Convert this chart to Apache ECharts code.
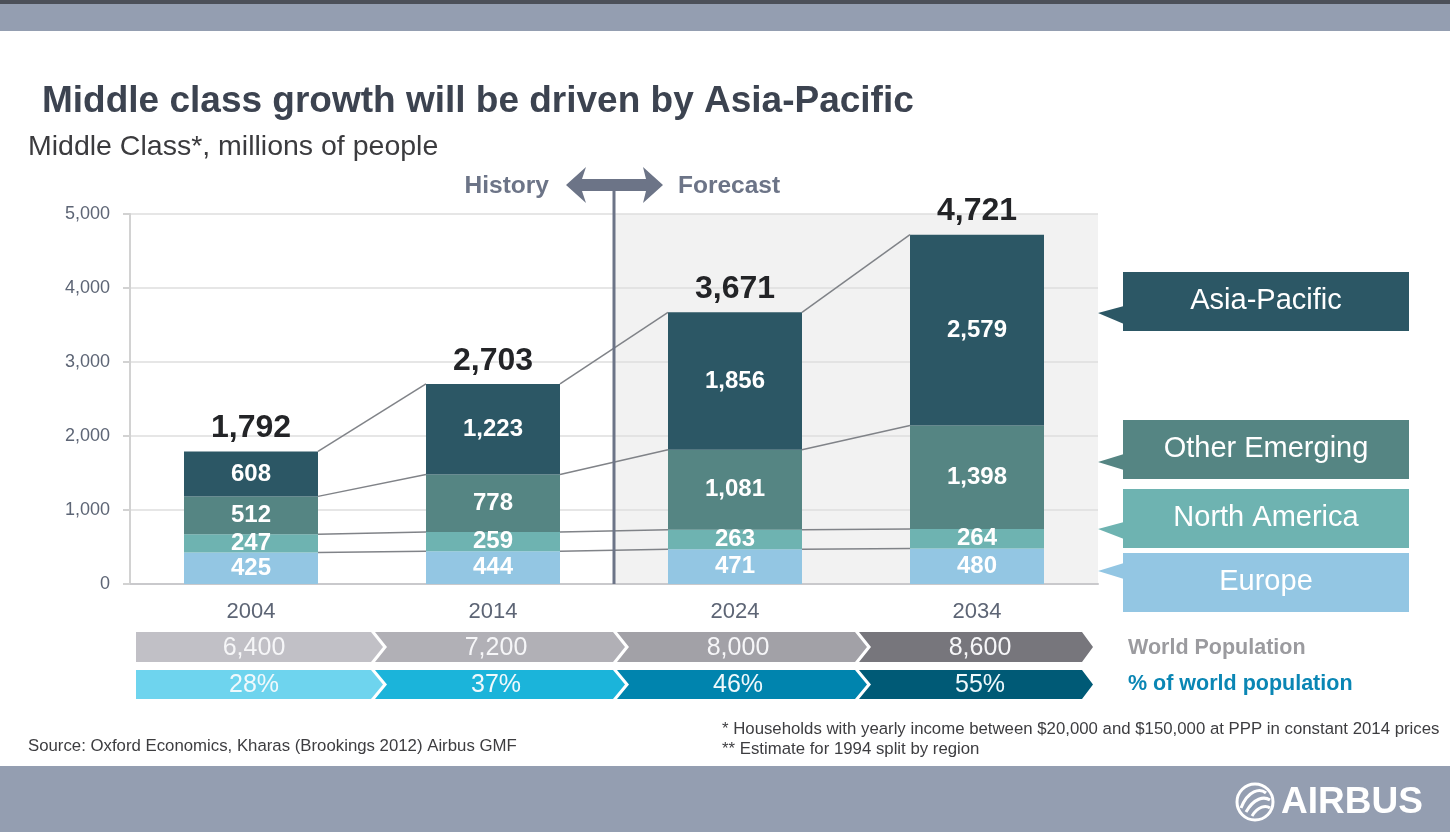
<!DOCTYPE html>
<html><head><meta charset="utf-8">
<script src="https://cdn.jsdelivr.net/npm/echarts@6/dist/echarts.min.js"></script>
<style>html,body{margin:0;padding:0;background:#fff}#c{width:1450px;height:832px}</style>
</head><body><div id="c"></div>
<script>
// ---- data ----
const years = ['2004', '2014', '2024', '2034'];
const europe = [425, 444, 471, 480];
const northAmerica = [247, 259, 263, 264];
const otherEmerging = [512, 778, 1081, 1398];
const asiaPacific = [608, 1223, 1856, 2579];
const totals = [1792, 2703, 3671, 4721];
const worldPopulation = [6400, 7200, 8000, 8600];
const shareOfWorld = [28, 37, 46, 55];
const yTicks = [0, 1000, 2000, 3000, 4000, 5000];
const seriesNames = ['Europe', 'North America', 'Other Emerging', 'Asia-Pacific'];
const firstForecast = '2024';

// ---- styles ----
const FONT = 'Liberation Sans, Arial, Helvetica, sans-serif';
const C_AP = '#2c5765', C_OE = '#558583', C_NA = '#6eb3b1', C_EU = '#93c6e3';
const seriesColors = [C_EU, C_NA, C_OE, C_AP];
const popColors = ['#c1c0c6', '#b1b0b6', '#a2a1a7', '#77767c'];
const shareColors = ['#6ed4ee', '#1bb4da', '#0084ae', '#005a76'];
const BAR_W = 134;
const fmt = v => Number(v).toLocaleString('en-US');

const seriesValues = [europe, northAmerica, otherEmerging, asiaPacific];
const levels = [];
let acc = years.map(() => 0);
seriesValues.forEach(arr => { acc = acc.map((a, i) => a + arr[i]); levels.push(acc.slice()); });
const fIdx = years.indexOf(firstForecast);
const yMax = yTicks[yTicks.length - 1];

const chart = echarts.init(document.getElementById('c'), null, { renderer: 'canvas' });

const barSeries = seriesNames.map((name, k) => ({
  name, type: 'bar', stack: 'mc', xAxisIndex: 0, yAxisIndex: 0,
  barWidth: BAR_W, data: seriesValues[k], z: 3,
  itemStyle: { color: seriesColors[k] },
  label: { show: true, position: 'inside', color: '#ffffff', fontFamily: FONT, fontWeight: 'bold', fontSize: 24, formatter: p => fmt(p.value) }
}));

function chevron(colorsArr, row) {
  return function (params, api) {
    const i = api.value(0);
    const n = years.length;
    const band = api.size([1, 0])[0];
    const cx = api.coord([i, 0])[0];
    const top = api.coord([i, 1])[1];
    const bot = api.coord([i, 0])[1];
    const mid = (top + bot) / 2;
    const L = cx - band / 2, R = cx + band / 2;
    const last = i === n - 1;
    const rT = last ? R - 16 : R - 1, rTip = last ? R - 5 : R + 11;
    const pts = [];
    if (i === 0) { pts.push([L + 6, top]); } else { pts.push([L + 3, top]); }
    pts.push([rT, top], [rTip, mid], [rT, bot]);
    if (i === 0) { pts.push([L + 6, bot]); } else { pts.push([L + 3, bot], [L + 15, mid]); }
    const v = api.value(1);
    const txt = row === 0 ? fmt(v) : v + '%';
    return {
      type: 'group', children: [
        { type: 'polygon', shape: { points: pts }, style: { fill: colorsArr[i] } },
        { type: 'text', style: { text: txt, x: cx + 3, y: mid + 1, align: 'center', verticalAlign: 'middle', textAlign: 'center', textVerticalAlign: 'middle', fill: row === 0 ? '#f6f6f8' : '#f0f9fc', fontSize: 25, fontFamily: FONT } }
      ]
    };
  };
}

const option = {
  animation: false,
  backgroundColor: '#ffffff',
  grid: [
    { left: 130, right: 352, top: 214, bottom: 248 },
    { left: 130, right: 352, top: 632, height: 30 },
    { left: 130, right: 352, top: 670, height: 29 }
  ],
  xAxis: [
    { type: 'category', data: years, gridIndex: 0,
      axisLine: { lineStyle: { color: '#c9c9cc', width: 2 } }, axisTick: { show: false },
      axisLabel: { color: '#5d6575', fontSize: 22, fontFamily: FONT, margin: 17 } },
    { type: 'category', data: years, gridIndex: 1, show: false },
    { type: 'category', data: years, gridIndex: 2, show: false }
  ],
  yAxis: [
    { type: 'value', gridIndex: 0, min: 0, max: yMax, interval: 1000,
      axisLine: { show: true, lineStyle: { color: '#d2d2d2', width: 2 } },
      axisTick: { show: true, length: 7, lineStyle: { color: '#d2d2d2', width: 2 } },
      splitLine: { lineStyle: { color: '#dedede', width: 1.5 } },
      axisLabel: { color: '#5d6575', fontSize: 18, fontFamily: FONT, margin: 20, formatter: v => fmt(v) } },
    { type: 'value', gridIndex: 1, min: 0, max: 1, show: false },
    { type: 'value', gridIndex: 2, min: 0, max: 1, show: false }
  ],
  series: [
    { name: 'forecastBg', type: 'custom', xAxisIndex: 0, yAxisIndex: 0, z: -1, silent: true,
      data: years.map((y, i) => [i, 0]).filter(d => d[0] >= fIdx),
      renderItem: (params, api) => {
        const i = api.value(0);
        const band = api.size([1, 0])[0];
        const c = api.coord([i, 0]);
        const top = api.coord([i, yMax])[1];
        return { type: 'rect', shape: { x: c[0] - band / 2, y: top, width: band, height: c[1] - top }, style: { fill: '#f2f2f2' } };
      } },
    ...barSeries,
    { name: 'connectors', type: 'custom', xAxisIndex: 0, yAxisIndex: 0, z: 4, silent: true,
      data: years.slice(0, -1).map((y, i) => [i, totals[i]]),
      renderItem: (params, api) => {
        const i = api.value(0);
        return { type: 'group', children: levels.map(lv => {
          const a = api.coord([i, lv[i]]), b = api.coord([i + 1, lv[i + 1]]);
          return { type: 'line', shape: { x1: a[0] + BAR_W / 2, y1: a[1], x2: b[0] - BAR_W / 2, y2: b[1] }, style: { stroke: '#808388', lineWidth: 1.5 } };
        }) };
      } },
    { name: 'divider', type: 'custom', xAxisIndex: 0, yAxisIndex: 0, z: 5, silent: true,
      data: [[fIdx, yMax]],
      renderItem: (params, api) => {
        const i = api.value(0);
        const band = api.size([1, 0])[0];
        const x = api.coord([i, 0])[0] - band / 2;
        const bot = api.coord([i, 0])[1];
        const top = api.coord([i, yMax])[1];
        const cy = top - 29;
        const col = '#6c7487';
        const pts = [[x - 48, cy], [x - 28, cy - 18], [x - 32, cy - 6], [x + 32, cy - 6], [x + 29, cy - 18], [x + 49, cy],
          [x + 29, cy + 18], [x + 32, cy + 6], [x - 32, cy + 6], [x - 28, cy + 18]];
        return { type: 'group', children: [
          { type: 'line', shape: { x1: x, y1: cy + 5, x2: x, y2: bot }, style: { stroke: col, lineWidth: 3 } },
          { type: 'polygon', shape: { points: pts }, style: { fill: col } },
          { type: 'text', style: { text: 'History', x: x - 65, y: cy + 1, align: 'right', verticalAlign: 'middle', textAlign: 'right', textVerticalAlign: 'middle', fill: col, fontSize: 24.5, fontWeight: 'bold', fontFamily: FONT } },
          { type: 'text', style: { text: 'Forecast', x: x + 64, y: cy + 1, align: 'left', verticalAlign: 'middle', textAlign: 'left', textVerticalAlign: 'middle', fill: col, fontSize: 24.5, fontWeight: 'bold', fontFamily: FONT } }
        ] };
      } },
    { name: 'totals', type: 'custom', xAxisIndex: 0, yAxisIndex: 0, z: 6, silent: true,
      data: totals.map((v, i) => [i, v]),
      renderItem: (params, api) => {
        const p = api.coord([api.value(0), api.value(1)]);
        return { type: 'text', style: { text: fmt(api.value(1)), x: p[0], y: p[1] - 23, align: 'center', verticalAlign: 'middle', textAlign: 'center', textVerticalAlign: 'middle', fill: '#232427', fontSize: 32, fontWeight: 'bold', fontFamily: FONT } };
      } },
    { name: 'World Population', type: 'custom', xAxisIndex: 1, yAxisIndex: 1, silent: true,
      data: worldPopulation.map((v, i) => [i, v]), renderItem: chevron(popColors, 0) },
    { name: '% of world population', type: 'custom', xAxisIndex: 2, yAxisIndex: 2, silent: true,
      data: shareOfWorld.map((v, i) => [i, v]), renderItem: chevron(shareColors, 1) }
  ],
  graphic: []
};

function txt(text, x, y, size, color, weight, align) {
  return { type: 'text', silent: true, style: { text, x, y, fill: color, fontSize: size, fontWeight: weight || 'normal', fontFamily: FONT,
    align: align || 'left', textAlign: align || 'left', verticalAlign: 'middle', textVerticalAlign: 'middle' } };
}

const legendBoxes = [
  { name: 'Asia-Pacific', color: C_AP, top: 272, tip: 313, b1: 306, b2: 324 },
  { name: 'Other Emerging', color: C_OE, top: 420, tip: 462, b1: 454, b2: 470 },
  { name: 'North America', color: C_NA, top: 489, tip: 529, b1: 522, b2: 539 },
  { name: 'Europe', color: C_EU, top: 553, tip: 571, b1: 563, b2: 579 }
];

const g = [
  { type: 'rect', silent: true, shape: { x: 0, y: 0, width: 1450, height: 4 }, style: { fill: '#4c5059' } },
  { type: 'rect', silent: true, shape: { x: 0, y: 4, width: 1450, height: 27 }, style: { fill: '#949eb1' } },
  { type: 'rect', silent: true, shape: { x: 0, y: 766, width: 1450, height: 66 }, style: { fill: '#949eb1' } },
  txt('Middle class growth will be driven by Asia-Pacific', 42, 102, 37, '#3c4350', 'bold'),
  txt('Middle Class*, millions of people', 28, 147, 28.5, '#3b3b3e'),
  txt('World Population', 1128, 648, 21.5, '#9b9b9f', 'bold'),
  txt('% of world population', 1128, 684, 21.5, '#0a86b4', 'bold'),
  txt('Source: Oxford Economics, Kharas (Brookings 2012) Airbus GMF', 28, 746, 16.8, '#3d3d40'),
  txt('* Households with yearly income between $20,000 and $150,000 at PPP in constant 2014 prices', 722, 729, 16.8, '#3d3d40'),
  txt('** Estimate for 1994 split by region', 722, 749, 16.8, '#3d3d40'),
  // Airbus logo
  { type: 'circle', silent: true, shape: { cx: 1255, cy: 802, r: 18 }, style: { fill: 'none', stroke: '#ffffff', lineWidth: 3 } },
  { type: 'bezierCurve', silent: true, shape: { x1: 1241, y1: 808, x2: 1266, y2: 793, cpx1: 1248, cpy1: 790, cpx2: 1260, cpy2: 788 }, style: { stroke: '#ffffff', lineWidth: 3, fill: 'none' } },
  { type: 'bezierCurve', silent: true, shape: { x1: 1246, y1: 812, x2: 1270, y2: 800, cpx1: 1254, cpy1: 798, cpx2: 1264, cpy2: 796 }, style: { stroke: '#ffffff', lineWidth: 3, fill: 'none' } },
  { type: 'bezierCurve', silent: true, shape: { x1: 1252, y1: 816, x2: 1270, y2: 808, cpx1: 1258, cpy1: 806, cpx2: 1266, cpy2: 805 }, style: { stroke: '#ffffff', lineWidth: 3, fill: 'none' } },
  txt('AIRBUS', 1281, 803, 37, '#ffffff', 'bold')
];
legendBoxes.forEach(b => {
  g.push({ type: 'rect', silent: true, shape: { x: 1123, y: b.top, width: 286, height: 59 }, style: { fill: b.color } });
  g.push({ type: 'polygon', silent: true, shape: { points: [[1124, b.b1], [1098, b.tip], [1124, b.b2]] }, style: { fill: b.color } });
  g.push(txt(b.name, 1266, b.top + 29, 29, '#ffffff', 'normal', 'center'));
});
option.graphic = g;

chart.setOption(option);
</script>
</body></html>
